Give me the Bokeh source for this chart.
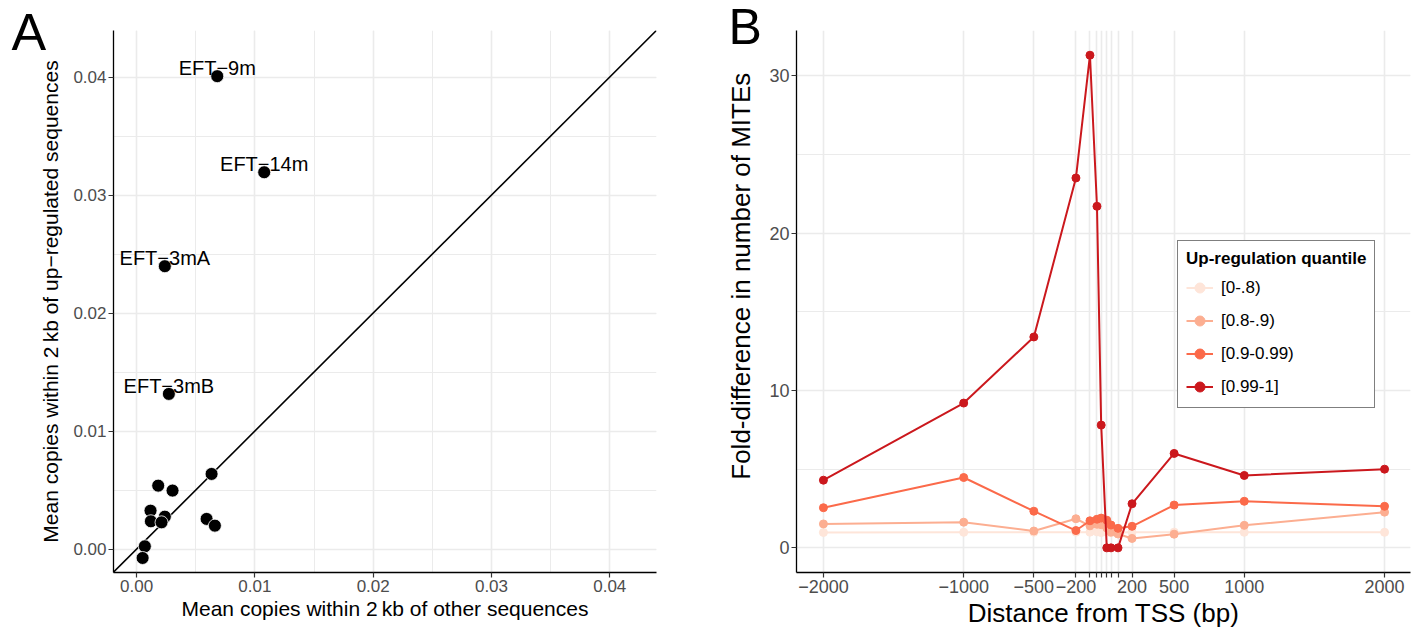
from bokeh.plotting import figure
from bokeh.layouts import row
from bokeh.models import (Range1d, SingleIntervalTicker, FixedTicker, Slope, Label,
                          Legend, LegendItem, ColumnDataSource, PrintfTickFormatter)
from bokeh.core.properties import value
from bokeh.embed import file_html
from bokeh.resources import INLINE

MINUS = "\u2212"

# ---------------- Panel A data ----------------
a_names = ["EFT" + MINUS + "9m", "EFT" + MINUS + "14m", "EFT" + MINUS + "3mA", "EFT" + MINUS + "3mB",
           "", "", "", "", "", "", "", "", "", "", ""]
a_other = [0.00682, 0.01079, 0.00239, 0.00273, 0.00634, 0.00183, 0.00304, 0.00118, 0.00239,
           0.00121, 0.00211, 0.00592, 0.00662, 0.00070, 0.00051]
a_up = [0.04007, 0.03193, 0.02397, 0.01315, 0.00637, 0.00538, 0.00496, 0.00326, 0.00275,
        0.00236, 0.00227, 0.00256, 0.00199, 0.00024, -0.00075]

# ---------------- Panel B data ----------------
b_dist = [-2000, -1000, -500, -200, -100, -50, -20, 20, 50, 100, 200, 500, 1000, 2000]
b_tick_labels = [MINUS + "2000", MINUS + "1000", MINUS + "500", MINUS + "200",
                 "", "", "", "", "", "", "200", "500", "1000", "2000"]
q_labels = ["[0-.8)", "[0.8-.9)", "[0.9-0.99)", "[0.99-1]"]
q_colors = ["#FEE5D9", "#FCAE91", "#FB6A4A", "#CB181D"]
q0 = [0.98, 0.99, 0.99, 1.00, 1.00, 1.02, 0.97, 1.00, 0.96, 0.98, 1.00, 1.00, 0.99, 0.99]
q1 = [1.52, 1.63, 1.07, 1.85, 1.40, 1.50, 1.47, 1.26, 1.00, 0.88, 0.60, 0.87, 1.43, 2.27]
q2 = [2.55, 4.47, 2.33, 1.10, 1.72, 1.82, 1.89, 1.76, 1.45, 1.24, 1.37, 2.72, 2.96, 2.64]
q3 = [4.3, 9.2, 13.4, 23.5, 31.3, 21.7, 7.8, 0.0, 0.0, 0.0, 2.8, 6.0, 4.6, 5.0]
q_series = [q0, q1, q2, q3]

FONT = "Liberation Sans"
GRID = "#EBEBEB"

A_X = (-0.00195, 0.04395)
A_Y = (-0.00198, 0.04394)
B_X = (-2192, 2185)
B_Y = (-1.565, 32.87)


def style_axes(p, tick_size, title_size):
    for ax in (p.xaxis, p.yaxis):
        ax.axis_line_color = "black"
        ax.axis_line_width = 1.3
        ax.major_tick_line_color = "#333333"
        ax.major_tick_line_width = 1.2
        ax.major_tick_out = 5
        ax.major_tick_in = 0
        ax.minor_tick_line_color = None
        ax.major_label_text_font = FONT
        ax.major_label_text_font_size = tick_size
        ax.major_label_text_color = "#4D4D4D"
        ax.major_label_standoff = 2
        ax.axis_label_text_font = FONT
        ax.axis_label_text_font_size = title_size
        ax.axis_label_text_font_style = "normal"
        ax.axis_label_text_color = "black"
    p.xaxis.axis_label_standoff = 2
    p.outline_line_color = None
    p.background_fill_color = "white"
    p.border_fill_color = "white"


def corner_label(p, xr, yr, frame_w, frame_h, dx_px, dy_px, text, size):
    # panel letter placed dx_px left of the frame and dy_px relative to the frame top;
    # added to a side panel so that it is not clipped to the frame
    x = xr[0] - dx_px * (xr[1] - xr[0]) / frame_w
    y = yr[1] - dy_px * (yr[1] - yr[0]) / frame_h
    p.add_layout(Label(x=x, y=y, text=text, text_font=FONT, text_font_size=size,
                       text_color="black", text_baseline="alphabetic"), "left")


# ================= Panel A =================
pa = figure(width=686, height=632, output_backend="svg", toolbar_location=None,
            x_range=Range1d(*A_X), y_range=Range1d(*A_Y),
            min_border_left=113, min_border_right=30, min_border_top=30, min_border_bottom=60)
pa.xaxis.ticker = SingleIntervalTicker(interval=0.01, num_minor_ticks=2)
pa.yaxis.ticker = SingleIntervalTicker(interval=0.01, num_minor_ticks=2)
pa.xaxis.formatter = PrintfTickFormatter(format="%.2f")
pa.yaxis.formatter = PrintfTickFormatter(format="%.2f")
for g in (pa.xgrid, pa.ygrid):
    g.grid_line_color = GRID
    g.grid_line_width = 1.6
    g.minor_grid_line_color = GRID
    g.minor_grid_line_width = 1.0
pa.xaxis.axis_label = "Mean copies within 2\u2009kb of other sequences"
pa.yaxis.axis_label = "Mean copies within 2\u2009kb of up" + MINUS + "regulated sequences"
style_axes(pa, "17px", "21px")
pa.yaxis.axis_label_standoff = 8

diag = Slope(gradient=1, y_intercept=0, line_color="black", line_width=1.6, level="underlay")
pa.add_layout(diag)

src_a = ColumnDataSource(dict(x=a_other, y=a_up, name=a_names))
pa.scatter("x", "y", source=src_a, size=13, fill_color="black", line_color="white", line_width=0.8)
pa.text("x", "y", text="name", source=src_a, text_align="center", text_baseline="alphabetic",
        y_offset=-8, text_font=value(FONT), text_font_size="20px", text_color="black")

corner_label(pa, A_X, A_Y, 543, 542, 102, 1, "A", "52px")

# ================= Panel B =================
pb = figure(width=733, height=632, output_backend="svg", toolbar_location=None,
            x_range=Range1d(*B_X), y_range=Range1d(*B_Y),
            min_border_left=110, min_border_right=9, min_border_top=28, min_border_bottom=60)
pb.xaxis.ticker = FixedTicker(ticks=b_dist)
pb.xaxis.major_label_overrides = {d: lab for d, lab in zip(b_dist, b_tick_labels)}
pb.yaxis.ticker = SingleIntervalTicker(interval=10, num_minor_ticks=2)
pb.xgrid.grid_line_color = GRID
pb.xgrid.grid_line_width = 1.6
pb.ygrid.grid_line_color = GRID
pb.ygrid.grid_line_width = 1.6
pb.ygrid.minor_grid_line_color = GRID
pb.ygrid.minor_grid_line_width = 1.0
pb.xaxis.axis_label = "Distance from TSS (bp)"
# leading no-break spaces lift the centred title a little, as in the original figure
pb.yaxis.axis_label = "\u00a0" * 7 + "Fold-difference in number of MITEs"
style_axes(pb, "18px", "26px")
pb.yaxis.axis_label_standoff = 10

items = []
for lab, col, ys in zip(q_labels, q_colors, q_series):
    src = ColumnDataSource(dict(x=b_dist, y=ys))
    lr = pb.line("x", "y", source=src, line_color=col, line_width=2)
    sr = pb.scatter("x", "y", source=src, size=8, fill_color=col, line_color=col)
    items.append(LegendItem(label=lab, renderers=[lr, sr]))

legend = Legend(items=items, location=(381, 164), title="Up-regulation quantile",
                title_text_font=FONT, title_text_font_size="17px", title_text_font_style="bold",
                title_text_color="black", title_standoff=6,
                label_text_font=FONT, label_text_font_size="17px", label_text_color="black",
                label_height=25, glyph_height=25, glyph_width=27, label_standoff=8,
                spacing=8, padding=8, margin=0,
                border_line_color="black", border_line_width=1.5,
                background_fill_color="white", background_fill_alpha=1.0)
pb.add_layout(legend)

corner_label(pb, B_X, B_Y, 614, 544, 68, -4, "B", "50px")

layout = row(pa, pb)
open("out.html", "w").write(file_html(layout, INLINE))
